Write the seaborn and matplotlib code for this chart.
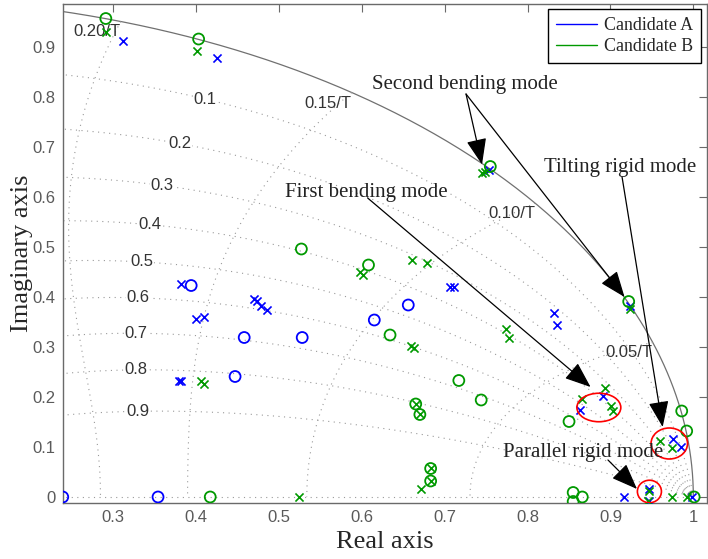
import numpy as np
import pandas as pd
import matplotlib
matplotlib.use("Agg")
import matplotlib.pyplot as plt
import seaborn as sns
from matplotlib.patches import Ellipse
from matplotlib.lines import Line2D

# ---------------- data ----------------
a_pole_re = [0.312, 0.425, 0.382, 0.400, 0.409, 0.470, 0.473, 0.478, 0.485, 0.379, 0.382,
             0.706, 0.711, 0.832, 0.835, 0.754, 0.924, 0.891, 0.863, 0.976, 0.985,
             0.946, 0.946, 0.916, 0.998]
a_pole_im = [0.912, 0.879, 0.427, 0.357, 0.361, 0.396, 0.392, 0.383, 0.374, 0.231, 0.231,
             0.421, 0.421, 0.369, 0.344, 0.654, 0.383, 0.202, 0.173, 0.116, 0.099,
             0.016, -0.008, 0.0, 0.0]
a_zero_re = [0.239, 0.354, 0.394, 0.458, 0.528, 0.447, 0.656, 0.615]
a_zero_im = [0.0, 0.0, 0.423, 0.319, 0.319, 0.241, 0.384, 0.354]

b_pole_re = [0.291, 0.401, 0.745, 0.749, 0.923, 0.598, 0.601, 0.661, 0.678, 0.774, 0.778,
             0.659, 0.663, 0.406, 0.409, 0.665, 0.670, 0.683, 0.683, 0.671, 0.893,
             0.866, 0.901, 0.903, 0.960, 0.974, 0.946, 0.945, 0.974, 0.992, 0.524]
b_pole_im = [0.931, 0.893, 0.648, 0.651, 0.377, 0.450, 0.444, 0.474, 0.469, 0.336, 0.319,
             0.301, 0.297, 0.232, 0.226, 0.186, 0.165, 0.057, 0.032, 0.015, 0.217,
             0.196, 0.182, 0.171, 0.111, 0.097, 0.012, -0.009, 0.0, 0.0, 0.0]
b_zero_re = [0.291, 0.403, 0.755, 0.922, 0.608, 0.634, 0.717, 0.527, 0.744, 0.665, 0.670,
             0.683, 0.683, 0.850, 0.986, 0.992, 1.001, 0.855, 0.855, 0.866, 0.417]
b_zero_im = [0.957, 0.916, 0.661, 0.391, 0.464, 0.324, 0.233, 0.496, 0.194, 0.186, 0.165,
             0.057, 0.032, 0.151, 0.172, 0.132, 0.0, 0.009, -0.009, 0.0, 0.0]

candidates = ["Candidate A", "Candidate B"]
damping = [0.1, 0.2, 0.3, 0.4, 0.5, 0.6, 0.7, 0.8, 0.9]
damping_labels = ["0.1", "0.2", "0.3", "0.4", "0.5", "0.6", "0.7", "0.8", "0.9"]
freq = [0.05, 0.10, 0.15, 0.20, 0.25]
freq_labels = ["0.05/T", "0.10/T", "0.15/T", "0.20/T", "0.25/T"]
x_ticks = [0.3, 0.4, 0.5, 0.6, 0.7, 0.8, 0.9, 1.0]
x_tick_labels = ["0.3", "0.4", "0.5", "0.6", "0.7", "0.8", "0.9", "1"]
y_ticks = [0.0, 0.1, 0.2, 0.3, 0.4, 0.5, 0.6, 0.7, 0.8, 0.9]
y_tick_labels = ["0", "0.1", "0.2", "0.3", "0.4", "0.5", "0.6", "0.7", "0.8", "0.9"]

# ---------------- styling ----------------
sns.set_style("white")
plt.rcParams["font.family"] = ["Liberation Sans", "DejaVu Sans"]
SERIF = ["Liberation Serif", "DejaVu Serif"]
COLORS = {"Candidate A": (0.0, 0.0, 1.0), "Candidate B": (0.0, 0.6, 0.0)}
GRID_C = "#9a9a9a"
AX_C = "#6a6a6a"

df = pd.concat([
    pd.DataFrame({"re": a_pole_re, "im": a_pole_im, "cand": candidates[0], "kind": "pole"}),
    pd.DataFrame({"re": a_zero_re, "im": a_zero_im, "cand": candidates[0], "kind": "zero"}),
    pd.DataFrame({"re": b_pole_re, "im": b_pole_im, "cand": candidates[1], "kind": "pole"}),
    pd.DataFrame({"re": b_zero_re, "im": b_zero_im, "cand": candidates[1], "kind": "zero"}),
], ignore_index=True)

fig = plt.figure(figsize=(7.08, 5.59), dpi=100)
ax = fig.add_axes([0.0886, 0.1002, 0.9094, 0.8926])
ax.set_xlim(0.239, 1.016)
ax.set_ylim(-0.012, 0.986)

# ---------------- z-plane grid ----------------
th = np.linspace(0, np.pi, 600)
ax.plot(np.cos(th), np.sin(th), color="#707070", lw=0.9, zorder=1)
for z in damping:
    r = np.exp(-z * th / np.sqrt(1 - z ** 2))
    ax.plot(r * np.cos(th), r * np.sin(th), color=GRID_C, lw=0.8,
            linestyle=(0, (1, 4)), zorder=1)
ax.plot([0, 1], [0, 0], color=GRID_C, lw=0.8, linestyle=(0, (1, 4)), zorder=1)
zz = np.linspace(0, 1, 300)
for f in freq:
    w = 2 * np.pi * f
    r = np.exp(-zz * w)
    t = w * np.sqrt(1 - zz ** 2)
    ax.plot(r * np.cos(t), r * np.sin(t), color=GRID_C, lw=0.8,
            linestyle=(0, (1, 4)), zorder=1)

bb = dict(facecolor="white", edgecolor="none", pad=0.5)
wl = 1.0996
for z, lab in zip(damping, damping_labels):
    r = np.exp(-z * wl)
    t = wl * np.sqrt(1 - z ** 2)
    ax.text(r * np.cos(t), r * np.sin(t), lab, ha="center", va="center",
            fontsize=12, color="#333333", bbox=bb, zorder=2)
for f, lab in zip(freq, freq_labels):
    w = 2 * np.pi * f
    x, y = np.cos(w), np.sin(w)
    if x < 0.239:
        continue
    ax.text(x, y - 0.006, lab, ha="right", va="top", fontsize=12,
            color="#333333", zorder=2)

# ---------------- poles & zeros ----------------
for cand in candidates:
    c = COLORS[cand]
    sub = df[(df.cand == cand) & (df.kind == "pole")]
    sns.scatterplot(data=sub, x="re", y="im", ax=ax, marker="x", color=c,
                    s=34, linewidth=1.2, zorder=4, legend=False)
    sub = df[(df.cand == cand) & (df.kind == "zero")]
    sns.scatterplot(data=sub, x="re", y="im", ax=ax, marker="o", color=c,
                    facecolor="none", edgecolor=c, s=62, linewidth=1.3,
                    zorder=4, legend=False)

# ---------------- annotations ----------------
for (cx, cy, w, h) in [(0.886, 0.179, 0.053, 0.057), (0.971, 0.107, 0.044, 0.062),
                       (0.947, 0.011, 0.029, 0.045)]:
    ax.add_patch(Ellipse((cx, cy), w, h, facecolor="none", edgecolor="red",
                         lw=1.2, zorder=5))

ap = dict(arrowstyle="-|>,head_length=0.9,head_width=0.35", color="black",
          lw=0.9, shrinkA=0, shrinkB=0, mutation_scale=18)
tk = dict(fontsize=15, family=SERIF, color="#222222", ha="center", va="center", zorder=6)
ax.text(0.724, 0.826, "Second bending mode", **tk)
ax.annotate("", xy=(0.745, 0.665), xytext=(0.7257, 0.806), arrowprops=ap, zorder=6)
ax.annotate("", xy=(0.917, 0.400), xytext=(0.7257, 0.806), arrowprops=ap, zorder=6)
ax.text(0.912, 0.660, "Tilting rigid mode", **tk)
ax.annotate("", xy=(0.963, 0.140), xytext=(0.914, 0.640), arrowprops=ap, zorder=6)
ax.text(0.605, 0.610, "First bending mode", **tk)
ax.annotate("", xy=(0.876, 0.220), xytext=(0.607, 0.598), arrowprops=ap, zorder=6)
ax.text(0.867, 0.088, "Parallel rigid mode", **tk)
ax.annotate("", xy=(0.932, 0.016), xytext=(0.897, 0.074), arrowprops=ap, zorder=6)

# ---------------- axes cosmetics ----------------
ax.set_xticks(x_ticks)
ax.set_xticklabels(x_tick_labels)
ax.set_yticks(y_ticks)
ax.set_yticklabels(y_tick_labels)
ax.tick_params(direction="in", length=6, width=0.8, top=True, right=True,
               labelsize=12, labelcolor="#5a5a5a", color=AX_C, pad=5)
for s in ax.spines.values():
    s.set_color(AX_C)
    s.set_linewidth(1.0)
ax.set_xlabel("Real axis", fontsize=19, family=SERIF, va="center")
ax.set_ylabel("Imaginary axis", fontsize=19, family=SERIF, va="center")
ax.xaxis.set_label_coords(0.5, -0.078)
ax.yaxis.set_label_coords(-0.063, 0.5)

handles = [Line2D([0], [0], color=COLORS[c], lw=1) for c in candidates]
leg = ax.legend(handles, candidates, loc="upper right", frameon=True, fancybox=False,
                prop={"family": SERIF, "size": 12.9}, handlelength=2.3,
                handletextpad=0.4, borderaxespad=0.3, borderpad=0.45,
                labelspacing=0.2, framealpha=1)
leg.get_frame().set_edgecolor("black")
leg.get_frame().set_linewidth(1.0)
leg.set_zorder(10)

fig.savefig("out.png", dpi=100)
